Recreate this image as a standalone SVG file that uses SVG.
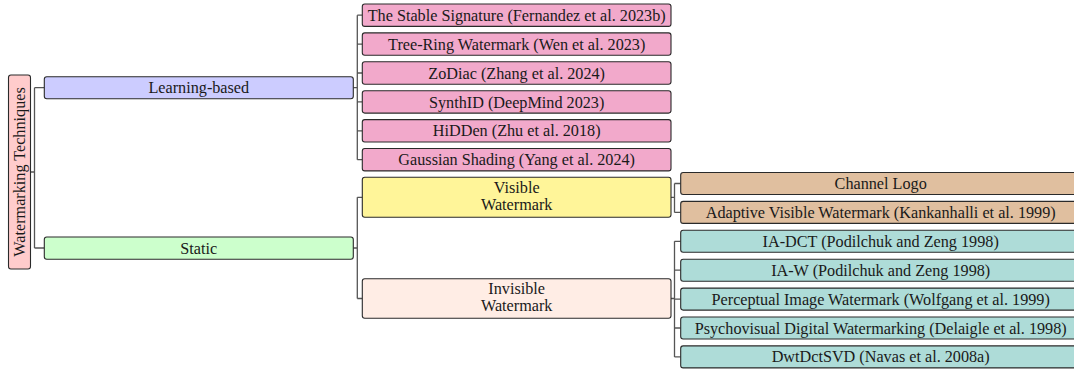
<svg xmlns="http://www.w3.org/2000/svg" width="1074" height="371" viewBox="0 0 1074 371">
<style>
.box{stroke:#2a2a2a;stroke-width:1.1}
.t{font-family:"Liberation Serif","Times New Roman",serif;font-size:16.2px;fill:#1a1a1a;text-anchor:middle}
.c{fill:none;stroke:#555;stroke-width:1.3}
.root{fill:#FFCCCC}.lb{fill:#CCCCFF}.st{fill:#CCFFCC}.lc{fill:#F2A9CB}.vis{fill:#FFF599}.inv{fill:#FFEDE5}.vc{fill:#E0BF9F}.ic{fill:#AEDCD8}
</style>
<rect width="1074" height="371" fill="#fff"/>
<g id="connectors">
<path class="c" d="M30.5,172H34.5M34.5,87.7V248M34.5,87.7H44.3M34.5,248H44.3"/>
<path class="c" d="M353.3,87.7H357.3M357.3,15.2V159.7M357.3,15.2H362.3M357.3,44.1H362.3M357.3,73H362.3M357.3,101.9H362.3M357.3,130.8H362.3M357.3,159.7H362.3"/>
<path class="c" d="M353.3,248H357.3M357.3,197.3V298.5M357.3,197.3H362.3M357.3,298.5H362.3"/>
<path class="c" d="M671,197.3H674.5M674.5,183.5V212.4M674.5,183.5H680.7M674.5,212.4H680.7"/>
<path class="c" d="M671,298.5H674.5M674.5,241.3V356.9M674.5,241.3H680.7M674.5,270.2H680.7M674.5,299.1H680.7M674.5,328H680.7M674.5,356.9H680.7"/>
</g>
<g id="root"><rect class="box root" x="8.5" y="75" width="22" height="194" rx="2.5"/><text class="t" transform="translate(24.5,172) rotate(-90)">Watermarking Techniques</text></g>
<g id="learning"><rect class="box lb" x="44.3" y="76.7" width="309" height="22" rx="2.5"/><text class="t" x="198.8" y="93.3">Learning-based</text></g>
<g id="static"><rect class="box st" x="44.3" y="237" width="309" height="22.3" rx="2.5"/><text class="t" x="198.8" y="253.6">Static</text></g>
<g id="stable"><rect class="box lc" x="362.3" y="4" width="308.7" height="22.4" rx="2.5"/><text class="t" x="516.7" y="20.8">The Stable Signature (Fernandez et al. 2023b)</text></g>
<g id="treering"><rect class="box lc" x="362.3" y="32.9" width="308.7" height="22.4" rx="2.5"/><text class="t" x="516.7" y="49.7">Tree-Ring Watermark (Wen et al. 2023)</text></g>
<g id="zodiac"><rect class="box lc" x="362.3" y="61.8" width="308.7" height="22.4" rx="2.5"/><text class="t" x="516.7" y="78.6">ZoDiac (Zhang et al. 2024)</text></g>
<g id="synthid"><rect class="box lc" x="362.3" y="90.7" width="308.7" height="22.4" rx="2.5"/><text class="t" x="516.7" y="107.5">SynthID (DeepMind 2023)</text></g>
<g id="hidden"><rect class="box lc" x="362.3" y="119.6" width="308.7" height="22.4" rx="2.5"/><text class="t" x="516.7" y="136.4">HiDDen (Zhu et al. 2018)</text></g>
<g id="gaussian"><rect class="box lc" x="362.3" y="148.5" width="308.7" height="22.4" rx="2.5"/><text class="t" x="516.7" y="165.3">Gaussian Shading (Yang et al. 2024)</text></g>
<g id="visible"><rect class="box vis" x="362.3" y="177.3" width="308.7" height="40" rx="2.5"/><text class="t" x="516.7" y="192.7">Visible</text><text class="t" x="516.7" y="210">Watermark</text></g>
<g id="invisible"><rect class="box inv" x="362.3" y="278.7" width="308.7" height="39.6" rx="2.5"/><text class="t" x="516.7" y="293.8">Invisible</text><text class="t" x="516.7" y="310.6">Watermark</text></g>
<g id="channel"><rect class="box vc" x="680.7" y="172.5" width="400" height="22" rx="2.5"/><text class="t" x="880.7" y="189">Channel Logo</text></g>
<g id="adaptive"><rect class="box vc" x="680.7" y="201.4" width="400" height="22" rx="2.5"/><text class="t" x="880.7" y="217.9">Adaptive Visible Watermark (Kankanhalli et al. 1999)</text></g>
<g id="iadct"><rect class="box ic" x="680.7" y="230.3" width="400" height="22" rx="2.5"/><text class="t" x="880.7" y="246.8">IA-DCT (Podilchuk and Zeng 1998)</text></g>
<g id="iaw"><rect class="box ic" x="680.7" y="259.2" width="400" height="22" rx="2.5"/><text class="t" x="880.7" y="275.7">IA-W (Podilchuk and Zeng 1998)</text></g>
<g id="perceptual"><rect class="box ic" x="680.7" y="288.1" width="400" height="22" rx="2.5"/><text class="t" x="880.7" y="304.6">Perceptual Image Watermark (Wolfgang et al. 1999)</text></g>
<g id="psychovisual"><rect class="box ic" x="680.7" y="317" width="400" height="22" rx="2.5"/><text class="t" x="880.7" y="333.5">Psychovisual Digital Watermarking (Delaigle et al. 1998)</text></g>
<g id="dwtdctsvd"><rect class="box ic" x="680.7" y="345.9" width="400" height="22" rx="2.5"/><text class="t" x="880.7" y="362.4">DwtDctSVD (Navas et al. 2008a)</text></g>
</svg>
